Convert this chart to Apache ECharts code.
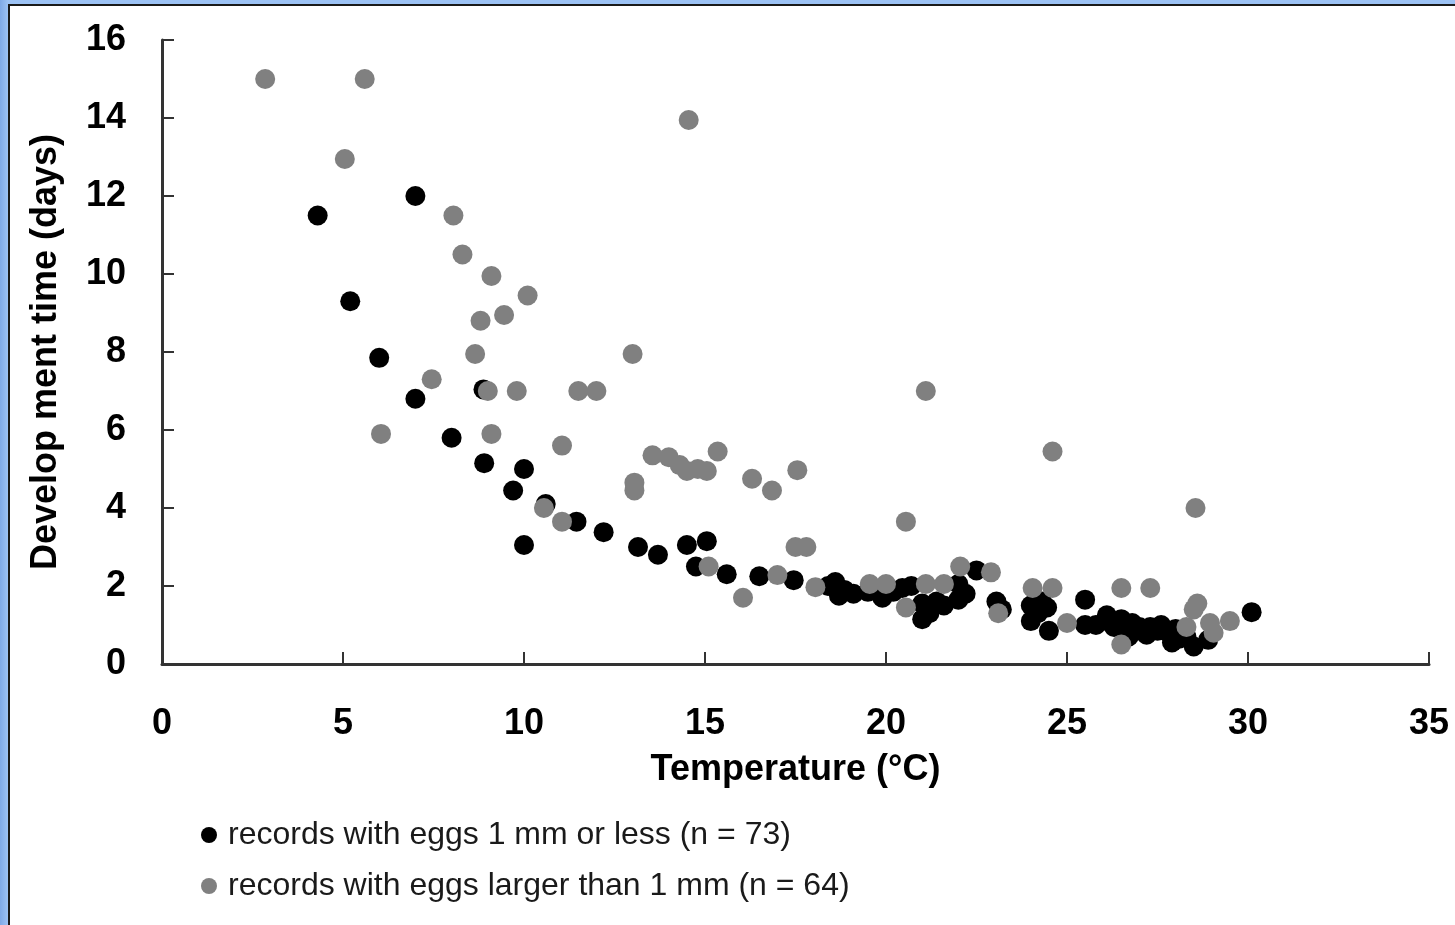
<!DOCTYPE html>
<html>
<head>
<meta charset="utf-8">
<script src="https://cdn.jsdelivr.net/npm/echarts@6/dist/echarts.min.js"></script>
<style>
  html, body { margin: 0; padding: 0; }
  body {
    width: 1455px; height: 925px; overflow: hidden;
    background: linear-gradient(90deg, #7fa9e6 0px, #9cc2f4 8px);
  }
  #chart {
    position: absolute; left: 8px; top: 4px;
    width: 1447px; height: 921px;
    border-left: 2px solid #1a1a1a; border-top: 2px solid #1a1a1a;
    background: #fff;
  }
</style>
</head>
<body>
<div id="chart"></div>
<script>
// records with eggs 1 mm or less: temperature (°C), development time (days)
const smallTemp = [4.3, 7.0, 5.2, 6.0, 7.0, 8.0, 8.9, 9.7, 10.0, 10.0, 10.6, 11.45, 12.2, 13.15, 13.7, 14.5, 15.05, 14.75, 15.6, 16.5,
  17.45, 18.4, 18.6, 18.85, 19.1, 19.9, 20.45, 21.0, 21.0, 21.4, 22.0, 22.0, 22.5, 23.05, 24.0, 24.45, 24.0, 24.5, 24.2, 25.5,
  25.5, 26.1, 26.1, 26.5, 26.5, 26.8, 27.0, 27.3, 27.5, 27.8, 28.1, 28.5, 28.9, 30.1, 20.2, 21.2, 21.6, 26.3, 26.9, 27.6,
  25.8, 23.2, 19.5, 18.7, 8.88, 27.2, 28.0, 24.3, 22.2, 20.7, 26.7, 27.9, 28.3]
const smallDays = [11.5, 12.0, 9.3, 7.85, 6.8, 5.8, 5.15, 4.45, 5.0, 3.05, 4.1, 3.65, 3.38, 3.0, 2.8, 3.05, 3.15, 2.5, 2.3, 2.25,
  2.15, 2.0, 2.1, 1.9, 1.8, 1.7, 1.95, 1.15, 1.55, 1.6, 2.05, 1.65, 2.4, 1.6, 1.5, 1.45, 1.1, 0.85, 1.3, 1.65,
  1.0, 1.1, 1.25, 1.05, 1.15, 1.05, 0.95, 0.95, 0.85, 0.8, 0.65, 0.45, 0.62, 1.33, 1.85, 1.3, 1.5, 0.95, 0.85, 1.0,
  1.0, 1.4, 1.85, 1.75, 7.04, 0.75, 0.9, 1.6, 1.8, 2.0, 0.7, 0.55, 0.7]

// records with eggs larger than 1 mm
const largeTemp = [2.85, 5.6, 5.05, 8.05, 8.3, 9.1, 10.1, 9.45, 8.8, 8.65, 7.45, 9.0, 9.8, 6.05, 9.1, 11.05, 11.5, 12.0, 13.0, 14.55,
  13.05, 13.05, 13.55, 14.0, 14.3, 14.5, 15.05, 15.35, 16.3, 16.85, 17.55, 17.5, 17.8, 10.55, 11.05, 15.1, 17.0, 16.05, 18.05, 19.55,
  20.0, 20.55, 21.1, 21.6, 22.05, 22.9, 23.1, 24.05, 24.6, 25.0, 26.5, 26.5, 27.3, 28.5, 28.6, 28.3, 28.95, 29.5, 29.05, 21.1,
  20.55, 24.6, 28.55, 14.8]
const largeDays = [15.0, 15.0, 12.95, 11.5, 10.5, 9.95, 9.45, 8.95, 8.8, 7.95, 7.3, 7.0, 7.0, 5.9, 5.9, 5.6, 7.0, 7.0, 7.95, 13.95,
  4.65, 4.45, 5.35, 5.3, 5.1, 4.95, 4.95, 5.45, 4.75, 4.45, 4.97, 3.0, 3.0, 4.0, 3.65, 2.5, 2.28, 1.7, 1.97, 2.05,
  2.05, 1.45, 2.05, 2.05, 2.5, 2.35, 1.3, 1.95, 1.95, 1.05, 0.5, 1.95, 1.95, 1.4, 1.55, 0.95, 1.05, 1.1, 0.8, 7.0,
  3.65, 5.45, 4.0, 5.0]

const seriesNames = ['records with eggs 1 mm or less (n = 73)', 'records with eggs larger than 1 mm (n = 64)']

function pairs(xs, ys) {
  return xs.map((x, i) => [x, ys[i]])
}

const chart = echarts.init(document.getElementById('chart'))

const axisFont = {
  fontFamily: 'Liberation Sans, Arial, sans-serif',
  fontWeight: 'bold',
  fontSize: 36,
  color: '#000',
}

chart.setOption({
  animation: false,
  backgroundColor: '#fff',
  grid: {
    left: 152,
    top: 34,
    width: 1267,
    height: 624,
  },
  legend: {
    orient: 'vertical',
    left: 186,
    top: 808,
    itemGap: 19,
    itemWidth: 16,
    itemHeight: 16,
    icon: 'circle',
    textStyle: {
      fontFamily: 'Liberation Sans, Arial, sans-serif',
      fontSize: 32,
      color: '#1a1a1a',
      padding: [0, 0, 0, 6],
    },
    data: seriesNames,
  },
  xAxis: {
    type: 'value',
    min: 0,
    max: 35,
    interval: 5,
    name: 'Temperature (°C)',
    nameLocation: 'middle',
    nameGap: 88,
    nameTextStyle: axisFont,
    axisLine: { show: true, lineStyle: { color: '#333', width: 3 } },
    axisTick: { show: true, inside: true, length: 12, lineStyle: { color: '#333', width: 2 } },
    axisLabel: { margin: 42, ...axisFont },
    splitLine: { show: false },
  },
  yAxis: {
    type: 'value',
    min: 0,
    max: 16,
    interval: 2,
    name: 'Develop ment time (days)',
    nameLocation: 'middle',
    nameGap: 98,
    nameTextStyle: axisFont,
    axisLine: { show: true, lineStyle: { color: '#333', width: 3 } },
    axisTick: { show: true, inside: true, length: 12, lineStyle: { color: '#333', width: 2 } },
    axisLabel: { margin: 36, ...axisFont },
    splitLine: { show: false },
  },
  series: [
    {
      name: seriesNames[0],
      type: 'scatter',
      symbol: 'circle',
      symbolSize: 20,
      itemStyle: { color: '#000', opacity: 1 },
      data: pairs(smallTemp, smallDays),
      z: 2,
    },
    {
      name: seriesNames[1],
      type: 'scatter',
      symbol: 'circle',
      symbolSize: 20,
      itemStyle: { color: '#808080', opacity: 1 },
      data: pairs(largeTemp, largeDays),
      z: 3,
    },
  ],
})
</script>
</body>
</html>
